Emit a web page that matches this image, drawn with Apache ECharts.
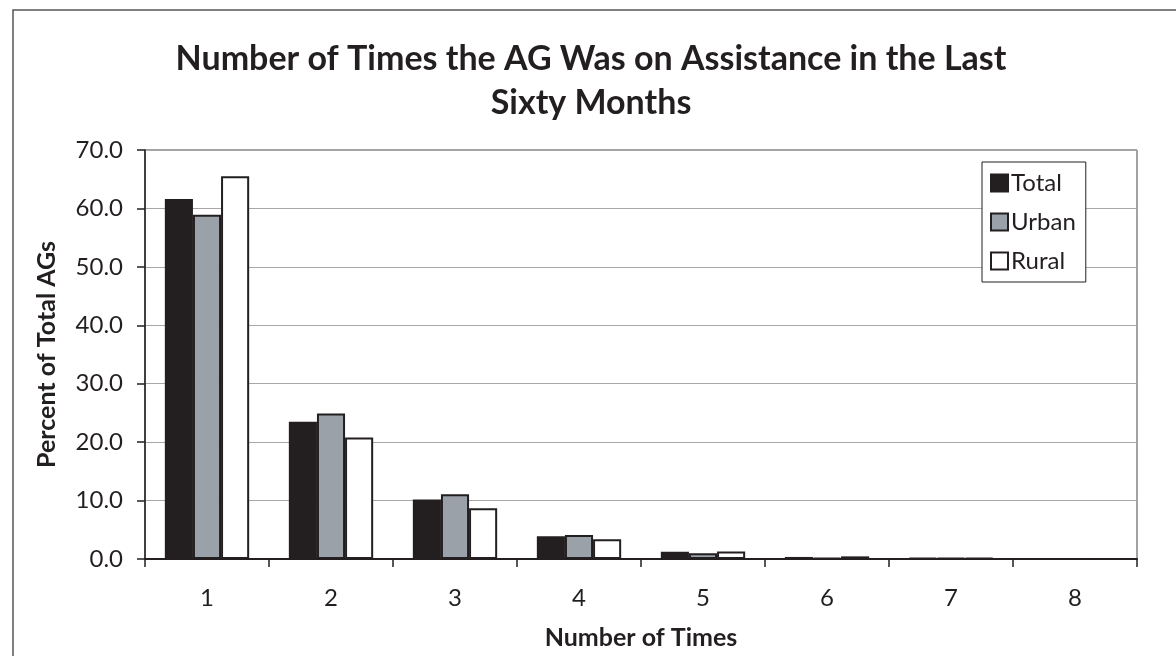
<!DOCTYPE html>
<html>
<head>
<meta charset="utf-8">
<script src="https://cdn.jsdelivr.net/npm/echarts@6/dist/echarts.min.js"></script>
<style>
  html, body { margin: 0; padding: 0; background: #fff; }
  #chart { width: 1176px; height: 656px; }
</style>
</head>
<body>
<div id="chart"></div>
<script>
// data
var categories = ['1', '2', '3', '4', '5', '6', '7', '8'];
var total = [61.6, 23.5, 10.2, 3.9, 1.25, 0.35, 0.17, 0.02];
var urban = [58.9, 24.9, 11.1, 4.1, 1.0, 0.18, 0.17, 0.02];
var rural = [65.5, 20.8, 8.7, 3.4, 1.3, 0.45, 0.17, 0.02];
var yTicks = [0, 10, 20, 30, 40, 50, 60, 70];

var ink = '#231f20';
var font = 'Lato';

var chart = echarts.init(document.getElementById('chart'));

function barSeries(name, values, fill) {
  return {
    name: name,
    type: 'bar',
    data: values,
    barGap: '0%',
    barCategoryGap: '32%',
    itemStyle: { color: fill, borderColor: ink, borderWidth: 2 },
    emphasis: { disabled: true }
  };
}

chart.setOption({
  backgroundColor: '#fff',
  animation: false,
  textStyle: { fontFamily: font, color: ink },
  graphic: [{
    type: 'rect',
    shape: { x: 13, y: 10, width: 1300, height: 800 },
    style: { fill: 'none', stroke: '#555', lineWidth: 1.5 },
    silent: true
  }],
  title: {
    text: 'Number of Times the AG Was on Assistance in the Last\nSixty Months',
    left: 586,
    top: 32,
    textAlign: 'center',
    textStyle: {
      fontFamily: font,
      fontWeight: 'bold',
      fontSize: 34,
      lineHeight: 44,
      color: ink
    }
  },
  legend: {
    orient: 'vertical',
    left: 982,
    top: 162,
    icon: 'rect',
    itemWidth: 17,
    itemHeight: 17,
    itemGap: 15,
    padding: [9, 10, 9, 8],
    borderColor: ink,
    borderWidth: 1,
    backgroundColor: '#fff',
    textStyle: { fontFamily: font, fontSize: 24, color: ink, padding: [0, 0, 0, -2] },
    itemStyle: { borderColor: ink, borderWidth: 2 },
    data: ['Total', 'Urban', 'Rural']
  },
  grid: {
    left: 145,
    right: 39,
    top: 150,
    bottom: 97,
    outerBoundsMode: 'none',
    show: true,
    borderColor: '#444',
    borderWidth: 1
  },
  xAxis: {
    type: 'category',
    data: categories,
    name: 'Number of Times',
    nameLocation: 'middle',
    nameGap: 66,
    nameTextStyle: { fontFamily: font, fontWeight: 'bold', fontSize: 25, color: ink },
    axisLine: { lineStyle: { color: ink, width: 2 } },
    axisTick: { show: true, length: 8, inside: false, lineStyle: { color: ink, width: 1.5 } },
    axisLabel: { fontFamily: font, fontSize: 24, color: ink, margin: 27 },
    splitLine: { show: false }
  },
  yAxis: {
    type: 'value',
    min: yTicks[0],
    max: yTicks[yTicks.length - 1],
    interval: 10,
    name: 'Percent of Total AGs',
    nameLocation: 'middle',
    nameGap: 86,
    nameTextStyle: { fontFamily: font, fontWeight: 'bold', fontSize: 25, color: ink },
    axisLine: { show: true, lineStyle: { color: ink, width: 1.5 } },
    axisTick: { show: true, length: 8, lineStyle: { color: ink, width: 1.5 } },
    axisLabel: {
      fontFamily: font,
      fontSize: 24,
      color: ink,
      margin: 22,
      formatter: function (v) { return v.toFixed(1); }
    },
    splitLine: { show: true, lineStyle: { color: '#a7a7a7', width: 1 } }
  },
  series: [
    barSeries('Total', total, ink),
    barSeries('Urban', urban, '#9aa1a8'),
    barSeries('Rural', rural, '#ffffff')
  ]
});
</script>
</body>
</html>
